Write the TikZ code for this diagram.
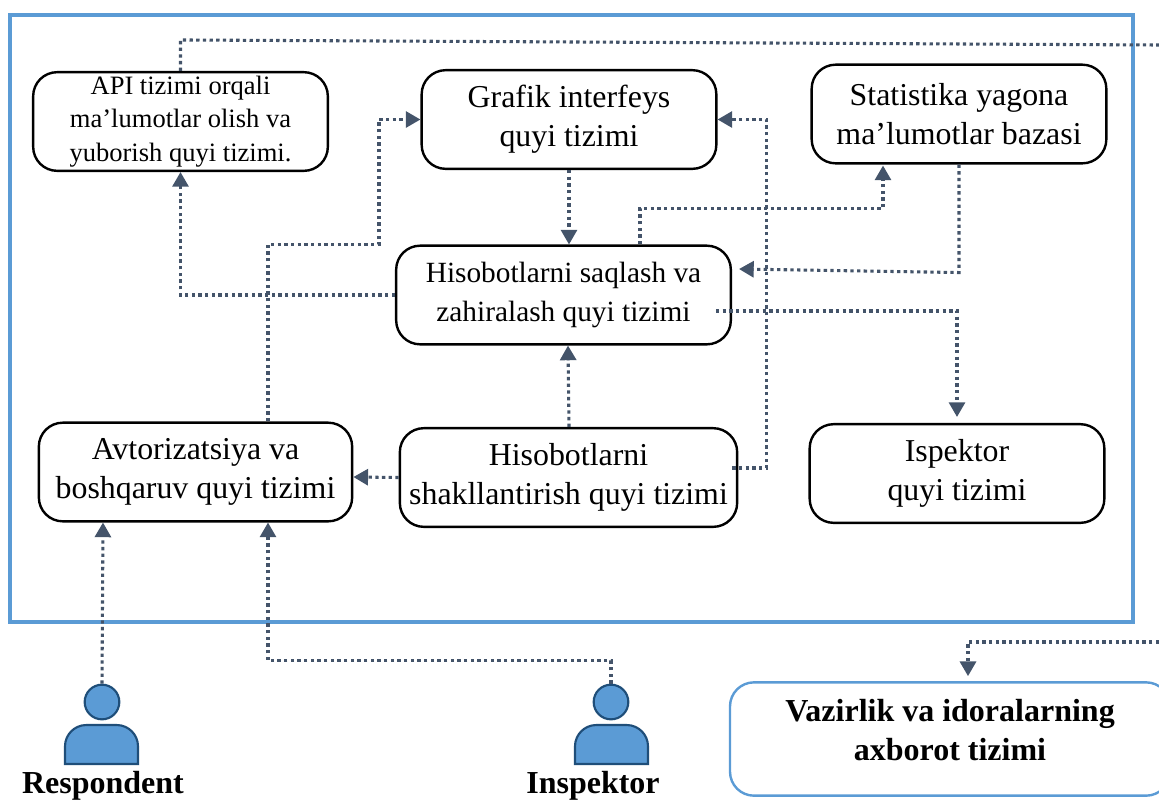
\documentclass[tikz,border=0pt]{standalone}
\usepackage{fontspec}
\setmainfont{Liberation Serif}
\usetikzlibrary{arrows.meta}
\definecolor{framecol}{HTML}{5B9BD5}
\definecolor{linkcol}{HTML}{44546A}
\definecolor{iconcol}{HTML}{1F4E79}
\tikzset{
  boxnode/.style={draw=black, line width=1.8pt, rounded corners=18pt, align=center, inner sep=0pt, minimum width=221pt, minimum height=74pt, font=\fontsize{23.9}{29}\selectfont},
  linkline/.style={draw=linkcol, line width=2.3pt, dash pattern=on 2.5pt off 2.5pt},
  linkarrow/.style={linkline, -{Triangle[length=11pt,width=12pt]}},
  headicon/.style={circle, draw=iconcol, fill=framecol, line width=1.6pt, minimum size=26pt, inner sep=0pt},
  bodyicon/.style={draw=iconcol, fill=framecol, line width=1.6pt},
  actorlabel/.style={font=\fontsize{24}{29}\selectfont\bfseries, inner sep=0pt}
}
\begin{document}
\begin{tikzpicture}[x=0.75pt, y=-0.75pt]
    \useasboundingbox (0,0) rectangle (1159,801);
    \clip (0,0) rectangle (1159,801);

    % Outer frame
    \draw[framecol, line width=2.4pt] (10,15) rectangle (1133,622);

    % Subsystems
    \node[boxnode, font=\fontsize{19.9}{25}\selectfont] (api) at (180.5,121.5) {API tizimi orqali\\ma’lumotlar olish va\\yuborish quyi tizimi.};
    \node[boxnode] (grafik) at (569,119.5) {Grafik interfeys\\quyi tizimi};
    \node[boxnode] (baza) at (959,114) {Statistika yagona\\ma’lumotlar bazasi};
    \node[boxnode, minimum width=251pt, font=\fontsize{22}{29}\selectfont] (saqlash) at (563.5,295) {Hisobotlarni saqlash va\\zahiralash quyi tizimi};
    \node[boxnode, minimum width=235pt] (avtor) at (195.5,472) {Avtorizatsiya va\\boshqaruv quyi tizimi};
    \node[boxnode, minimum width=253pt] (shakl) at (568.5,477.5) {Hisobotlarni\\shakllantirish quyi tizimi};
    \node[boxnode] (ispektor) at (957,473.5) {Ispektor\\quyi tizimi};

    % External system
    \node[boxnode, draw=framecol, minimum width=330pt, minimum height=85pt] (vazirlik) at (950,739) {};
    \node[align=center, inner sep=0pt, font=\fontsize{24}{29}\selectfont\bfseries] (vazirliktext) at (950,730) {Vazirlik va idoralarning\\axborot tizimi};

    % Actors
    \node[headicon] (resphead) at (102,702) {};
    \draw[bodyicon] (65,764) [rounded corners=16pt] -- (65,725) -- (138,725) [sharp corners] -- (138,764) -- cycle;
    \node[actorlabel] (respondent) at (103,785.5) {Respondent};
    \node[headicon] (insphead) at (611,702) {};
    \draw[bodyicon] (575,764) [rounded corners=16pt] -- (575,725) -- (648,725) [sharp corners] -- (648,764) -- cycle;
    \node[actorlabel] (inspektor) at (593,785.5) {Inspektor};

    % Free ends at the right edge
    \coordinate (outtop) at (1159,45);
    \coordinate (outbot) at (1159,642);

    % Connectors
    \draw[linkline] (api.north) -- ++(0,-31) -- (outtop);
    \draw[linkarrow] (outbot) -- (968,642) -- ([shift={(18,-5)}]vazirlik.north);
    \draw[linkarrow] (grafik.south) -- (saqlash.north -| grafik.south);
    \draw[linkarrow] (saqlash.west) -| (api.south);
    \draw[linkarrow] ([shift={(72.5,0)}]avtor.north) -- ++(0,-177) -- ++(111,0) |- (grafik.west);
    \draw[linkarrow] ([shift={(76.5,0)}]saqlash.north) -- ++(0,-36) -| ([shift={(-76,1)}]baza.south);
    \draw[linkarrow] (baza.south) -- ++(0,108) -- ([shift={(7,-26)}]saqlash.east);
    \draw[linkarrow] ([shift={(152.5,16)}]saqlash.center) -| ([shift={(0,-6)}]ispektor.north);
    \draw[linkarrow] (shakl.north -| grafik.south) -- ([shift={(4.5,0)}]saqlash.south);
    \draw[linkarrow] (shakl.west) -- ([shift={(0,5)}]avtor.east);
    \draw[linkarrow] ([shift={(-6,-9.5)}]shakl.east) -- ++(34,0) |- (grafik.east);
    \draw[linkarrow] (resphead.north) -- ([shift={(-92.5,0)}]avtor.south);
    \draw[linkarrow] (insphead.north) -- ++(0,-23) -| ([shift={(72.5,0)}]avtor.south);
\end{tikzpicture}
\end{document}
